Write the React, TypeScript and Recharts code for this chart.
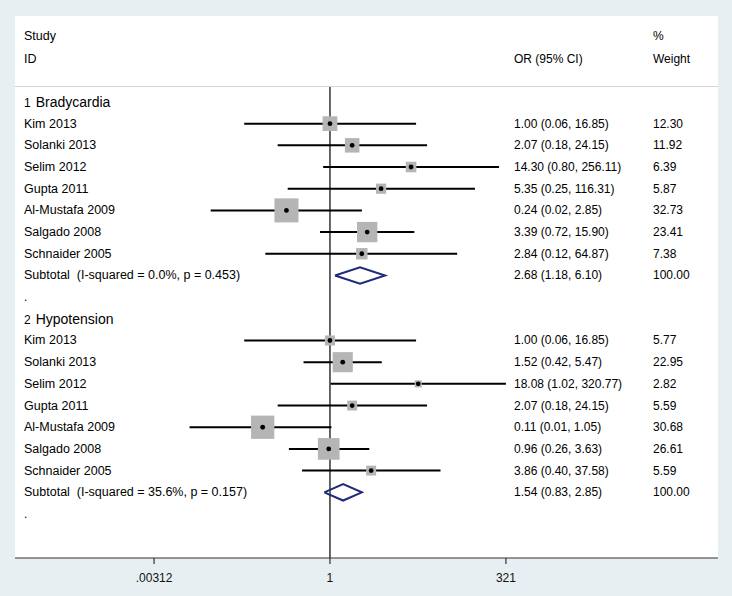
import React from "react";
import {
  ScatterChart, Scatter, XAxis, YAxis, ErrorBar, ReferenceLine, CartesianGrid,
} from "recharts";

const studies = [
  "Kim 2013", "Solanki 2013", "Selim 2012", "Gupta 2011",
  "Al-Mustafa 2009", "Salgado 2008", "Schnaider 2005",
];

const bradyOR = [1.0, 2.07, 14.3, 5.35, 0.24, 3.39, 2.84];
const bradyLow = [0.06, 0.18, 0.8, 0.25, 0.02, 0.72, 0.12];
const bradyHigh = [16.85, 24.15, 256.11, 116.31, 2.85, 15.9, 64.87];
const bradyWeight = [12.3, 11.92, 6.39, 5.87, 32.73, 23.41, 7.38];
const bradySubtotal = { or: 2.68, low: 1.18, high: 6.1, i2: "0.0%", p: "0.453" };

const hypoOR = [1.0, 1.52, 18.08, 2.07, 0.11, 0.96, 3.86];
const hypoLow = [0.06, 0.42, 1.02, 0.18, 0.01, 0.26, 0.4];
const hypoHigh = [16.85, 5.47, 320.77, 24.15, 1.05, 3.63, 37.58];
const hypoWeight = [5.77, 22.95, 2.82, 5.59, 30.68, 26.61, 5.59];
const hypoSubtotal = { or: 1.54, low: 0.83, high: 2.85, i2: "35.6%", p: "0.157" };

const xTicks = [0.00312, 1, 321];

const FONT = '"Liberation Sans", Arial, sans-serif';
const TEXT = "#000";

type Row = {
  x: number;
  y: number;
  kind: "head" | "study" | "sub" | "dot";
  num?: number;
  label?: string;
  ci?: string;
  wt?: string;
  err?: [number, number];
  w?: number;
};

const groups = [
  { num: 1, name: "Bradycardia", or: bradyOR, low: bradyLow, high: bradyHigh, wt: bradyWeight, sub: bradySubtotal },
  { num: 2, name: "Hypotension", or: hypoOR, low: hypoLow, high: hypoHigh, wt: hypoWeight, sub: hypoSubtotal },
];

const fmtCI = (o: number, l: number, h: number) =>
  `${o.toFixed(2)} (${l.toFixed(2)}, ${h.toFixed(2)})`;

const textRows: Row[] = [];
const points: Row[] = [];
const diamonds: { x: number; y: number }[][] = [];

let r = 0;
groups.forEach((g) => {
  textRows.push({ x: 1, y: r, kind: "head", num: g.num, label: g.name });
  studies.forEach((s, i) => {
    const y = r + 1 + i;
    textRows.push({
      x: 1, y, kind: "study", label: s,
      ci: fmtCI(g.or[i], g.low[i], g.high[i]), wt: g.wt[i].toFixed(2),
    });
    points.push({
      x: g.or[i], y, kind: "study",
      err: [g.or[i] - g.low[i], g.high[i] - g.or[i]], w: g.wt[i],
    });
  });
  const sy = r + 8;
  textRows.push({
    x: 1, y: sy, kind: "sub",
    label: `Subtotal \u00a0(I-squared = ${g.sub.i2}, p = ${g.sub.p})`,
    ci: fmtCI(g.sub.or, g.sub.low, g.sub.high), wt: "100.00",
  });
  const h = 0.38;
  diamonds.push([
    { x: g.sub.low, y: sy },
    { x: g.sub.or, y: sy - h },
    { x: g.sub.high, y: sy },
    { x: g.sub.or, y: sy + h },
    { x: g.sub.low, y: sy },
  ]);
  textRows.push({ x: 1, y: r + 9, kind: "dot", label: "." });
  r += 10;
});

const TextShape = (props: any) => {
  const { cy, payload } = props;
  const p = payload as Row;
  const base = cy + 4;
  if (p.kind === "head") {
    return (
      <text x={24} y={base + 1} fontFamily={FONT} fill={TEXT}>
        <tspan fontSize={12}>{p.num}</tspan>
        <tspan fontSize={14} dx={5}>{p.label}</tspan>
      </text>
    );
  }
  if (p.kind === "dot") {
    return (
      <text x={24} y={base} fontFamily={FONT} fontSize={12} fill={TEXT}>.</text>
    );
  }
  return (
    <g fontFamily={FONT} fill={TEXT}>
      <text x={24} y={base} fontSize={12.5}>{p.label}</text>
      <text x={514} y={base} fontSize={12}>{p.ci}</text>
      <text x={653} y={base} fontSize={12}>{p.wt}</text>
    </g>
  );
};

const SquareShape = (props: any) => {
  const { cx, cy, payload } = props;
  const s = 4.2 * Math.sqrt(payload.w);
  return <rect x={cx - s / 2} y={cy - s / 2} width={s} height={s} fill="#b5b5b5" />;
};

const DotShape = (props: any) => {
  const { cx, cy } = props;
  return <circle cx={cx} cy={cy} r={2.4} fill="#000" />;
};

const Empty = () => <g />;

export default function App() {
  return (
    <div
      style={{
        position: "absolute", left: 0, top: 0, width: 732, height: 596,
        background: "#e8eff2", fontFamily: FONT, color: TEXT,
      }}
    >
      <div style={{ position: "absolute", left: 15, top: 16, width: 703, height: 70, background: "#fff" }} />
      <div style={{ position: "absolute", left: 15, top: 86, width: 703, height: 1, background: "#d4d4d4" }} />
      <div style={{ position: "absolute", left: 24, top: 29, fontSize: 12.5 }}>Study</div>
      <div style={{ position: "absolute", left: 24, top: 52, fontSize: 12.5 }}>ID</div>
      <div style={{ position: "absolute", left: 514, top: 52, fontSize: 12 }}>OR (95% CI)</div>
      <div style={{ position: "absolute", left: 653, top: 29, fontSize: 12 }}>%</div>
      <div style={{ position: "absolute", left: 653, top: 52, fontSize: 12 }}>Weight</div>
      <div style={{ position: "absolute", left: 0, top: 0 }}>
        <ScatterChart width={732} height={596} margin={{ top: 87, right: 14, bottom: 8, left: 15 }}>
          <CartesianGrid fill="#fff" horizontal={false} vertical={false} />
          <XAxis
            type="number"
            dataKey="x"
            scale="log"
            domain={[3.26e-5, 3.37e5]}
            allowDataOverflow
            ticks={xTicks}
            interval={0}
            height={30}
            tickSize={6}
            tickMargin={9}
            axisLine={{ stroke: "#333", strokeWidth: 1.2 }}
            tickLine={{ stroke: "#333", strokeWidth: 1.2 }}
            tick={{ fontSize: 12, fill: "#111", fontFamily: FONT }}
            tickFormatter={(v: number) => (v < 1 ? String(v).replace(/^0/, "") : String(v))}
          />
          <YAxis type="number" dataKey="y" domain={[-0.69, 21.03]} reversed hide allowDataOverflow />
          <ReferenceLine x={1} stroke="#333" strokeWidth={1.5} />
          <Scatter data={textRows} shape={TextShape} isAnimationActive={false} />
          <Scatter data={points} shape={SquareShape} isAnimationActive={false} />
          <Scatter data={points} shape={DotShape} fill="#000" isAnimationActive={false}>
            <ErrorBar dataKey="err" direction="x" width={0} stroke="#000" strokeWidth={2} />
          </Scatter>
          {diamonds.map((d, i) => (
            <Scatter
              key={i}
              data={d}
              shape={Empty}
              fill="#1f2a78"
              line={{ stroke: "#1f2a78", strokeWidth: 2 }}
              isAnimationActive={false}
            />
          ))}
        </ScatterChart>
      </div>
    </div>
  );
}
